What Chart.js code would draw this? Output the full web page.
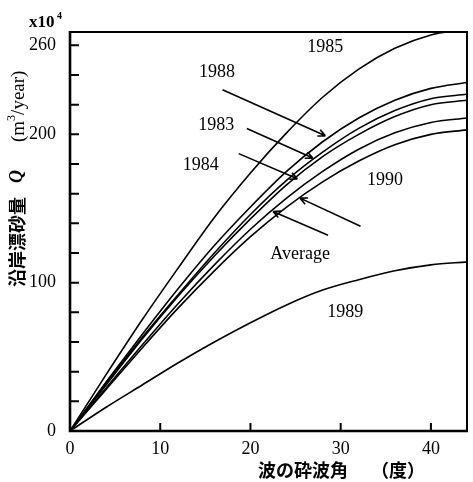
<!DOCTYPE html>
<html>
<head>
<meta charset="utf-8">
<script src="https://cdn.jsdelivr.net/npm/chart.js@4.4.0/dist/chart.umd.min.js"></script>
<style>
    html, body { margin: 0; padding: 0; background: #fff; }
</style>
</head>
<body>
<canvas id="chart" width="473" height="482"></canvas>
<script>
/* ================= DATA ================= */
const angles  = [0, 4, 8, 12, 16, 20, 24, 28, 32, 36, 40, 44];
const q1985   = [0, 38, 75, 110, 144, 174, 201, 225, 244, 258, 267, 271];
const q1988   = [0, 33, 65, 96, 125, 151, 175, 195, 211, 223, 231, 235];
const q1983   = [0, 32, 63, 92, 120, 146, 169, 188, 204, 216, 224, 227];
const q1984   = [0, 31, 62, 91, 118, 143, 166, 185, 200, 212, 220, 223];
const qAvg    = [0, 29, 58, 86, 112, 136, 157, 175, 190, 201, 208, 211];
const q1990   = [0, 28, 56, 83, 108, 131, 151, 168, 182, 193, 200, 203];
const q1989   = [0, 16, 31, 46, 60, 73, 85, 95, 102, 108, 112, 114];

const xTicks = [0, 10, 20, 30, 40];
const yTicks = [0, 20, 40, 60, 80, 100, 120, 140, 160, 180, 200, 220, 240, 260];
const yLabelled = [0, 100, 200, 260];

/* ================= ANNOTATIONS (data units) ================= */
const curveLabels = [
    { text: '1985', x: 28.3, y: 259 },
    { text: '1988', x: 16.3, y: 242 },
    { text: '1983', x: 16.2, y: 206 },
    { text: '1984', x: 14.5, y: 179 },
    { text: '1990', x: 34.9, y: 169 },
    { text: 'Average', x: 25.5, y: 119 },
    { text: '1989', x: 30.5, y: 80 }
];
const arrows = [
    { from: [16.9, 230], to: [28.3, 199] },
    { from: [19.6, 204], to: [26.9, 184] },
    { from: [18.7, 187], to: [25.2, 170] },
    { from: [32.2, 138], to: [25.5, 157] },
    { from: [28.6, 132], to: [22.5, 148] }
];

function pts(ys) {
    return angles.map((a, i) => ({ x: a, y: ys[i] }));
}

function curve(label, ys) {
    return {
        label: label,
        data: pts(ys),
        showLine: true,
        borderColor: '#000',
        borderWidth: 1.6,
        pointRadius: 0,
        cubicInterpolationMode: 'monotone',
        fill: false
    };
}

/* ================= DECORATION PLUGIN ================= */
const decor = {
    id: 'decor',
    afterDraw(chart) {
        const ctx = chart.ctx;
        const a = chart.chartArea;
        const xs = chart.scales.x, ys = chart.scales.y;
        ctx.save();
        ctx.strokeStyle = '#000';
        ctx.fillStyle = '#000';

        // frame
        ctx.lineWidth = 2;
        ctx.beginPath();
        ctx.moveTo(a.left, a.top); ctx.lineTo(a.right, a.top); ctx.lineTo(a.right, a.bottom);
        ctx.stroke();
        ctx.lineWidth = 2.6;
        ctx.beginPath();
        ctx.moveTo(a.left, a.top - 1); ctx.lineTo(a.left, a.bottom); ctx.lineTo(a.right + 1, a.bottom);
        ctx.stroke();

        // inward ticks
        ctx.lineWidth = 2;
        ctx.beginPath();
        xTicks.slice(1).forEach(v => {
            const px = xs.getPixelForValue(v);
            ctx.moveTo(px, a.bottom); ctx.lineTo(px, a.bottom - 8);
        });
        yTicks.slice(1).forEach(v => {
            const py = ys.getPixelForValue(v);
            ctx.moveTo(a.left, py); ctx.lineTo(a.left + 9, py);
        });
        ctx.stroke();

        // curve labels
        ctx.font = '18px "Liberation Serif"';
        ctx.textAlign = 'center';
        ctx.textBaseline = 'middle';
        curveLabels.forEach(l => {
            ctx.fillText(l.text, xs.getPixelForValue(l.x), ys.getPixelForValue(l.y));
        });

        // arrows
        ctx.lineWidth = 1.6;
        arrows.forEach(ar => {
            const x1 = xs.getPixelForValue(ar.from[0]), y1 = ys.getPixelForValue(ar.from[1]);
            const x2 = xs.getPixelForValue(ar.to[0]), y2 = ys.getPixelForValue(ar.to[1]);
            const ang = Math.atan2(y2 - y1, x2 - x1);
            ctx.beginPath();
            ctx.moveTo(x1, y1); ctx.lineTo(x2, y2);
            ctx.moveTo(x2, y2); ctx.lineTo(x2 - 8 * Math.cos(ang - 0.45), y2 - 8 * Math.sin(ang - 0.45));
            ctx.moveTo(x2, y2); ctx.lineTo(x2 - 8 * Math.cos(ang + 0.45), y2 - 8 * Math.sin(ang + 0.45));
            ctx.stroke();
        });

        // multiplier
        ctx.textAlign = 'left';
        ctx.textBaseline = 'alphabetic';
        ctx.font = 'bold 17px "Liberation Serif"';
        ctx.fillText('x10', 29, 27);
        ctx.font = 'bold 10px "Liberation Serif"';
        ctx.fillText('4', 57, 19);

        // x axis title
        ctx.textBaseline = 'middle';
        ctx.font = 'bold 18px "Noto Sans CJK JP"';
        ctx.fillText('波の砕波角', 258, 470);
        ctx.fillText('（度）', 371, 470);

        // y axis title (rotated)
        ctx.translate(17, 287);
        ctx.rotate(-Math.PI / 2);
        ctx.font = 'bold 18px "Noto Sans CJK JP"';
        ctx.fillText('沿岸漂砂量', 0, 0);
        ctx.font = 'italic bold 18px "Liberation Serif"';
        ctx.fillText('Q', 104, 0);
        ctx.font = '19px "Liberation Serif"';
        let x = 145;
        ctx.fillText('(m', x, 2);
        x += ctx.measureText('(m').width;
        ctx.font = '12px "Liberation Serif"';
        ctx.fillText('3', x, -5);
        x += ctx.measureText('3').width;
        ctx.font = '19px "Liberation Serif"';
        ctx.fillText('/year)', x, 2);

        ctx.restore();
    }
};

/* ================= CHART ================= */
function renderChart() {
    const ctx = document.getElementById('chart');
    new Chart(ctx, {
        type: 'scatter',
        data: {
            datasets: [
                curve('1985', q1985),
                curve('1988', q1988),
                curve('1983', q1983),
                curve('1984', q1984),
                curve('Average', qAvg),
                curve('1990', q1990),
                curve('1989', q1989)
            ]
        },
        options: {
            responsive: false,
            animation: false,
            devicePixelRatio: 1,
            layout: { padding: { top: 32, right: 6, left: 0, bottom: 0 } },
            plugins: { legend: { display: false }, tooltip: { enabled: false } },
            scales: {
                x: {
                    type: 'linear',
                    min: 0,
                    max: 44,
                    grid: { display: false },
                    border: { display: false },
                    afterBuildTicks: s => { s.ticks = xTicks.map(v => ({ value: v })); },
                    afterFit: s => { s.height = 51; },
                    ticks: {
                        color: '#000',
                        padding: -1,
                        font: { family: 'Liberation Serif', size: 18 }
                    }
                },
                y: {
                    type: 'linear',
                    min: 0,
                    max: 269,
                    grid: { display: false },
                    border: { display: false },
                    afterBuildTicks: s => { s.ticks = yTicks.map(v => ({ value: v })); },
                    afterFit: s => { s.width = 70; },
                    ticks: {
                        color: '#000',
                        padding: 6,
                        font: { family: 'Liberation Serif', size: 18 },
                        callback: v => yLabelled.includes(v) ? String(v) : ''
                    }
                }
            }
        },
        plugins: [decor]
    });
}

renderChart();
</script>
</body>
</html>
